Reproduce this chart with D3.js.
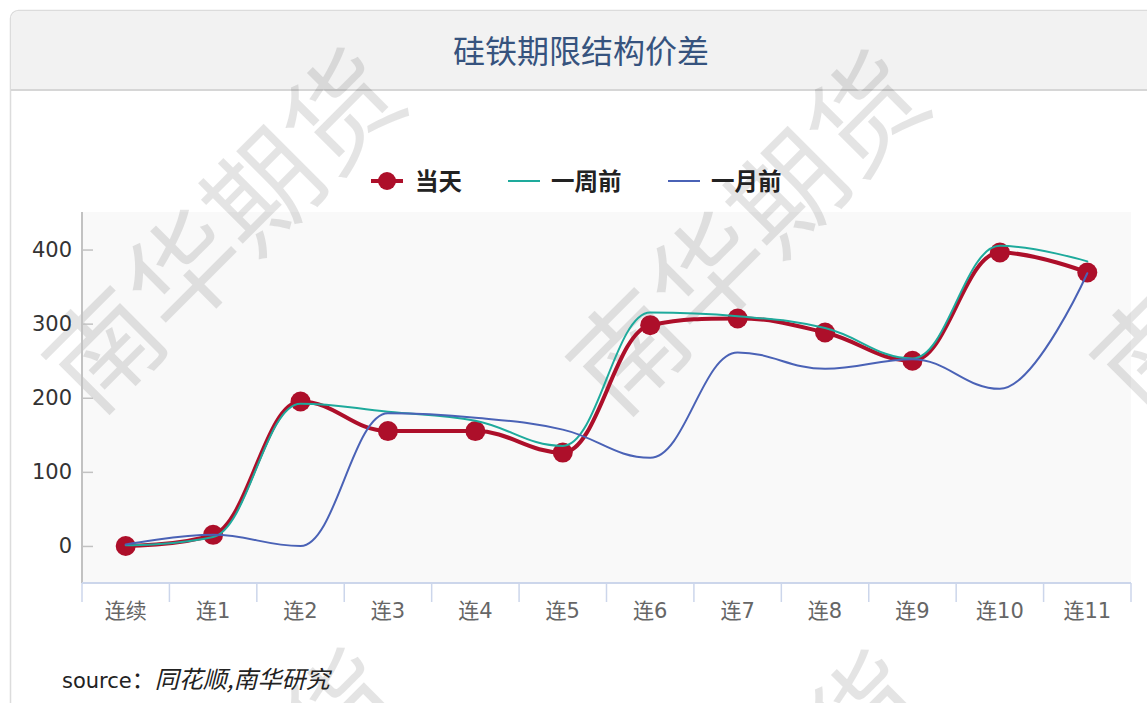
<!DOCTYPE html>
<html><head><meta charset="utf-8">
<script src="https://cdn.jsdelivr.net/npm/d3@7/dist/d3.min.js"></script>
<style>
html,body{margin:0;padding:0;background:#fff;}
svg{display:block;}
</style></head>
<body>
<svg id="chart" width="1147" height="703"></svg>
<script>
// ---- data ----
const title = "硅铁期限结构价差";
const categories = ["连续","连1","连2","连3","连4","连5","连6","连7","连8","连9","连10","连11"];
const seriesNames = ["当天","一周前","一月前"];
const today    = [0, 15, 195, 155, 155, 126, 298, 307, 288, 250, 396, 369];
const weekAgo  = [1, 12, 192, 181, 169, 135, 315, 310, 294, 253, 405, 384];
const monthAgo = [2, 15, 0, 179, 173, 157, 119, 261, 239, 252, 212, 368];
const yTicks = [0, 100, 200, 300, 400];
const yDomain = [-50, 450];
const sourceLabel = "source：";
const sourceText = "同花顺,南华研究";
const watermarkText = "南华期货";

// ---- styles ----
const colors = ["#ad0f2a", "#1eaa9c", "#4a62b6"];
const widths = [4, 2, 2];
const FONT = "'DejaVu Sans','Noto Sans CJK SC',sans-serif";
const CJK = "'Noto Sans CJK SC','DejaVu Sans',sans-serif";

const svg = d3.select("#chart");
const W = 1147, H = 703;
const plot = {left: 82, right: 1131, top: 212, bottom: 583};

// card
svg.append("rect").attr("x", 10.5).attr("y", 10.5).attr("width", 1200).attr("height", 800)
  .attr("rx", 8).attr("fill", "#fff").attr("stroke", "#dcdcdc").attr("stroke-width", 1.5);
const clip = svg.append("clipPath").attr("id", "cardclip");
clip.append("rect").attr("x", 11).attr("y", 11).attr("width", 1200).attr("height", 800).attr("rx", 8);
svg.append("rect").attr("x", 11).attr("y", 11).attr("width", 1200).attr("height", 79)
  .attr("fill", "#f2f2f2").attr("clip-path", "url(#cardclip)");
svg.append("line").attr("x1", 11).attr("x2", W).attr("y1", 90).attr("y2", 90)
  .attr("stroke", "#d6d6d6").attr("stroke-width", 2);

svg.append("text").attr("x", 581).attr("y", 63).attr("text-anchor", "middle")
  .attr("font-family", CJK).attr("font-size", 32).attr("fill", "#36537e").text(title);

// plot background
svg.append("rect").attr("x", plot.left).attr("y", plot.top)
  .attr("width", plot.right - plot.left).attr("height", plot.bottom - plot.top).attr("fill", "#f9f9f9");

// watermark (tiled, clipped at the page edge like the reference)
const wmCenters = [[218,225],[742,227],[1266,225],[218,825],[742,827]];
wmCenters.forEach(c => {
  svg.append("text").attr("transform", `translate(${c[0]},${c[1]}) rotate(-45)`)
    .attr("text-anchor", "middle").attr("dominant-baseline", "central")
    .attr("font-family", CJK).attr("font-size", 112).attr("fill", "rgba(0,0,0,0.105)")
    .text(watermarkText);
});

// scales
const x = d3.scaleBand().domain(categories).range([plot.left, plot.right]).padding(0);
const y = d3.scaleLinear().domain(yDomain).range([plot.bottom, plot.top + 0.5]);
const cx = d => x(d) + x.bandwidth() / 2;

// y axis
const yAxis = d3.axisLeft(y).tickValues(yTicks).tickSize(-11).tickPadding(10).tickFormat(d3.format("d"));
const gy = svg.append("g").attr("transform", `translate(${plot.left},0)`).call(yAxis);
gy.select(".domain").attr("stroke", "#c2c2c2").attr("stroke-width", 2).attr("d", `M0,${plot.top}V${plot.bottom}`);
gy.selectAll(".tick line").attr("stroke", "#c2c2c2").attr("stroke-width", 1.5);
gy.selectAll(".tick text").attr("font-family", FONT).attr("font-size", 21).attr("fill", "#333");

// x axis
const xAxis = d3.axisBottom(x).tickSize(0).tickPadding(20);
const gx = svg.append("g").attr("transform", `translate(0,${plot.bottom})`).call(xAxis);
gx.select(".domain").attr("stroke", "#ccd6eb").attr("stroke-width", 2).attr("d", `M${plot.left},0H${plot.right}`);
gx.selectAll(".tick text").attr("font-family", FONT).attr("font-size", 21).attr("fill", "#666");
const edges = categories.map(c => x(c)).concat([x(categories[categories.length-1]) + x.bandwidth()]);
gx.selectAll(".edge").data(edges).enter().append("line")
  .attr("x1", d => d).attr("x2", d => d).attr("y1", 0).attr("y2", 19)
  .attr("stroke", "#ccd6eb").attr("stroke-width", 1.5);

// highcharts-like spline via d3.path
function splinePath(pts) {
  const sm = 1.5, den = sm + 1, n = pts.length;
  const ctrl = pts.map((p, i) => {
    if (i === 0 || i === n - 1) return null;
    const [px, py] = p, [lx0, ly0] = pts[i-1], [nx, ny] = pts[i+1];
    let lcx = (sm*px + lx0)/den, lcy = (sm*py + ly0)/den;
    let rcx = (sm*px + nx)/den, rcy = (sm*py + ny)/den;
    let corr = 0;
    if (rcx !== lcx) corr = ((rcy - lcy)*(rcx - px))/(rcx - lcx) + py - rcy;
    lcy += corr; rcy += corr;
    if (lcy > ly0 && lcy > py) { lcy = Math.max(ly0, py); rcy = 2*py - lcy; }
    else if (lcy < ly0 && lcy < py) { lcy = Math.min(ly0, py); rcy = 2*py - lcy; }
    if (rcy > ny && rcy > py) { rcy = Math.max(ny, py); lcy = 2*py - rcy; }
    else if (rcy < ny && rcy < py) { rcy = Math.min(ny, py); lcy = 2*py - rcy; }
    return {lcx, lcy, rcx, rcy};
  });
  const path = d3.path();
  path.moveTo(pts[0][0], pts[0][1]);
  for (let i = 1; i < n; i++) {
    const a = ctrl[i-1], b = ctrl[i];
    path.bezierCurveTo(a ? a.rcx : pts[i-1][0], a ? a.rcy : pts[i-1][1],
                       b ? b.lcx : pts[i][0], b ? b.lcy : pts[i][1], pts[i][0], pts[i][1]);
  }
  return path.toString();
}

const allSeries = [today, weekAgo, monthAgo];
allSeries.forEach((vals, si) => {
  const pts = vals.map((v, i) => [cx(categories[i]), y(v)]);
  const g = svg.append("g");
  g.append("path").attr("d", splinePath(pts)).attr("fill", "none")
    .attr("stroke", colors[si]).attr("stroke-width", widths[si]).attr("stroke-linejoin", "round").attr("stroke-linecap", "round");
  if (si === 0) {
    g.selectAll("circle").data(vals).enter().append("circle")
      .attr("cx", (d, i) => cx(categories[i])).attr("cy", d => y(d)).attr("r", 10).attr("fill", colors[0]);
  }
});

// legend
const legendItems = [
  {sx: 371, tx: 415},
  {sx: 508, tx: 551},
  {sx: 668, tx: 711}
];
const ly = 181;
legendItems.forEach((it, i) => {
  const g = svg.append("g");
  g.append("line").attr("x1", it.sx).attr("x2", it.sx + 32).attr("y1", ly).attr("y2", ly)
    .attr("stroke", colors[i]).attr("stroke-width", i === 0 ? 4 : 2);
  if (i === 0) g.append("circle").attr("cx", it.sx + 16).attr("cy", ly).attr("r", 9).attr("fill", colors[0]);
  g.append("text").attr("x", it.tx).attr("y", ly + 8.5).attr("font-family", CJK).attr("font-weight", "bold")
    .attr("font-size", 23.5).attr("fill", "#222").text(seriesNames[i]);
});

// source
const st = svg.append("text").attr("x", 62).attr("y", 688).attr("font-family", FONT).attr("font-size", 21).attr("fill", "#222");
st.append("tspan").text("source");
st.append("tspan").attr("font-family", CJK).attr("font-size", 23).text("：");
st.append("tspan").attr("font-style", "italic").attr("font-family", CJK).attr("font-size", 24).text(sourceText);
</script>
</body></html>
